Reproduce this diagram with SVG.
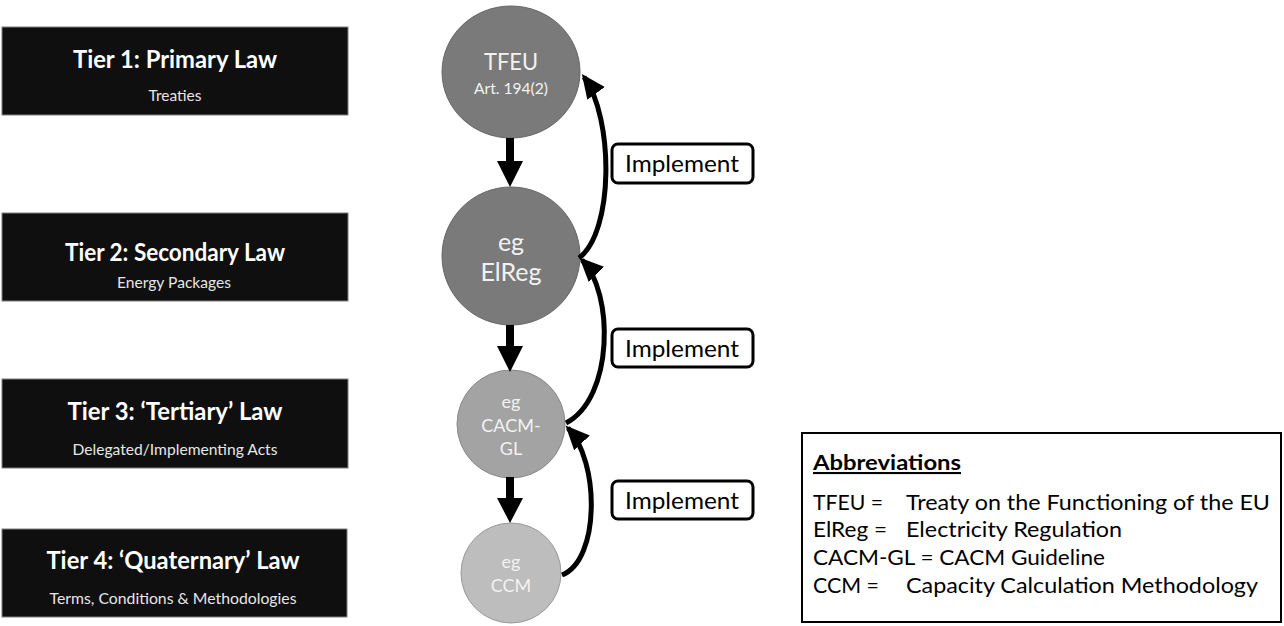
<svg xmlns="http://www.w3.org/2000/svg" width="1284" height="626" viewBox="0 0 1284 626">
<defs>
<style>
.tier{fill:#0f0f0f;stroke:#7f7f7f;stroke-width:1}
.tt{font-family:Lato,"Liberation Sans",sans-serif;font-weight:bold;fill:#ffffff;text-anchor:middle}
.ts{font-family:Lato,"Liberation Sans",sans-serif;fill:#e6e6e6;text-anchor:middle;font-size:15px}
.ct{font-family:Lato,"Liberation Sans",sans-serif;fill:#f2f2f2;text-anchor:middle}
.lbl{fill:#ffffff;stroke:#000;stroke-width:3}
.lt{font-family:Lato,"Liberation Sans",sans-serif;fill:#000;font-size:24px;text-anchor:middle}
.cur{fill:none;stroke:#000;stroke-width:5}
.ab{font-family:Lato,"Liberation Sans",sans-serif;fill:#000;font-size:21px}
</style>
<marker id="ah" markerUnits="userSpaceOnUse" markerWidth="24" markerHeight="24" viewBox="0 0 20 18" refX="17" refY="9" orient="auto">
<path d="M0,0 L20,9 L0,18 Z" fill="#000"/>
</marker>
</defs>
<g id="tier1">
<rect class="tier" x="2" y="27" width="346" height="88"/>
<text class="tt" x="175" y="68" font-size="24" textLength="204" lengthAdjust="spacingAndGlyphs">Tier 1: Primary Law</text>
<text class="ts" x="175" y="101" textLength="53" lengthAdjust="spacingAndGlyphs">Treaties</text>
</g>
<g id="tier2">
<rect class="tier" x="2" y="213" width="346" height="88"/>
<text class="tt" x="175" y="261" font-size="24" textLength="220" lengthAdjust="spacingAndGlyphs">Tier 2: Secondary Law</text>
<text class="ts" x="174" y="288" textLength="114" lengthAdjust="spacingAndGlyphs">Energy Packages</text>
</g>
<g id="tier3">
<rect class="tier" x="2" y="379" width="346" height="89"/>
<text class="tt" x="175" y="420" font-size="24" textLength="215" lengthAdjust="spacingAndGlyphs">Tier 3: ‘Tertiary’ Law</text>
<text class="ts" x="175" y="455" textLength="205" lengthAdjust="spacingAndGlyphs">Delegated/Implementing Acts</text>
</g>
<g id="tier4">
<rect class="tier" x="2" y="529" width="345" height="88"/>
<text class="tt" x="173" y="569" font-size="24" textLength="253" lengthAdjust="spacingAndGlyphs">Tier 4: ‘Quaternary’ Law</text>
<text class="ts" x="173" y="604" textLength="247" lengthAdjust="spacingAndGlyphs">Terms, Conditions &amp; Methodologies</text>
</g>
<g id="tfeu">
<ellipse cx="511" cy="72" rx="69" ry="66" fill="#7a7a7a" stroke="#666" stroke-width="1"/>
<text class="ct" x="511" y="70" font-size="23" textLength="54" lengthAdjust="spacingAndGlyphs">TFEU</text>
<text class="ct" x="511" y="94" font-size="15" textLength="74" lengthAdjust="spacingAndGlyphs">Art. 194(2)</text>
</g>
<g id="elreg">
<circle cx="511" cy="256" r="69" fill="#7a7a7a" stroke="#666" stroke-width="1"/>
<text class="ct" x="511" y="251" font-size="25">eg</text>
<text class="ct" x="511" y="281" font-size="25">ElReg</text>
</g>
<g id="cacm">
<circle cx="511" cy="424" r="54" fill="#a3a3a3" stroke="#8a8a8a" stroke-width="1"/>
<text class="ct" x="511" y="408" font-size="18">eg</text>
<text class="ct" x="511" y="432" font-size="18">CACM-</text>
<text class="ct" x="511" y="455" font-size="18">GL</text>
</g>
<g id="ccm">
<circle cx="511" cy="573" r="50" fill="#bdbdbd" stroke="#9a9a9a" stroke-width="1"/>
<text class="ct" x="511" y="568" font-size="18">eg</text>
<text class="ct" x="511" y="592" font-size="18">CCM</text>
</g>
<g id="connectors">
<polygon points="506,138 514,138 514,161 523,161 510,187 497,161 506,161" fill="#000"/>
<polygon points="506,325 514,325 514,346 523,346 510,372 497,346 506,346" fill="#000"/>
<polygon points="506,477 514,477 514,498 523,498 510,523 497,498 506,498" fill="#000"/>
<path class="cur" d="M579,258 C614,232 614,118 584,77" marker-end="url(#ah)"/>
<path class="cur" d="M566,423 C614,398 614,292 582,260" marker-end="url(#ah)"/>
<path class="cur" d="M562,575 C600,560 600,462 568,428" marker-end="url(#ah)"/>
</g>
<g id="implement1">
<rect class="lbl" x="612" y="144" width="141" height="39" rx="6"/>
<text class="lt" x="682" y="172" textLength="114" lengthAdjust="spacingAndGlyphs">Implement</text>
</g>
<g id="implement2">
<rect class="lbl" x="612" y="329" width="141" height="38" rx="6"/>
<text class="lt" x="682" y="357" textLength="114" lengthAdjust="spacingAndGlyphs">Implement</text>
</g>
<g id="implement3">
<rect class="lbl" x="612" y="481" width="141" height="38" rx="6"/>
<text class="lt" x="682" y="509" textLength="114" lengthAdjust="spacingAndGlyphs">Implement</text>
</g>
<g id="abbreviations">
<rect x="802" y="433" width="479" height="189" fill="#fff" stroke="#000" stroke-width="2"/>
<text class="ab" x="813" y="470" font-weight="bold" text-decoration="underline" textLength="148" lengthAdjust="spacingAndGlyphs">Abbreviations</text>
<text class="ab" x="813" y="510" textLength="70" lengthAdjust="spacingAndGlyphs">TFEU =</text>
<text class="ab" x="906" y="510" textLength="364" lengthAdjust="spacingAndGlyphs">Treaty on the Functioning of the EU</text>
<text class="ab" x="813" y="537" textLength="74" lengthAdjust="spacingAndGlyphs">ElReg =</text>
<text class="ab" x="906" y="537" textLength="216" lengthAdjust="spacingAndGlyphs">Electricity Regulation</text>
<text class="ab" x="813" y="565" textLength="292" lengthAdjust="spacingAndGlyphs">CACM-GL = CACM Guideline</text>
<text class="ab" x="813" y="593" textLength="66" lengthAdjust="spacingAndGlyphs">CCM =</text>
<text class="ab" x="906" y="593" textLength="352" lengthAdjust="spacingAndGlyphs">Capacity Calculation Methodology</text>
</g>
</svg>
